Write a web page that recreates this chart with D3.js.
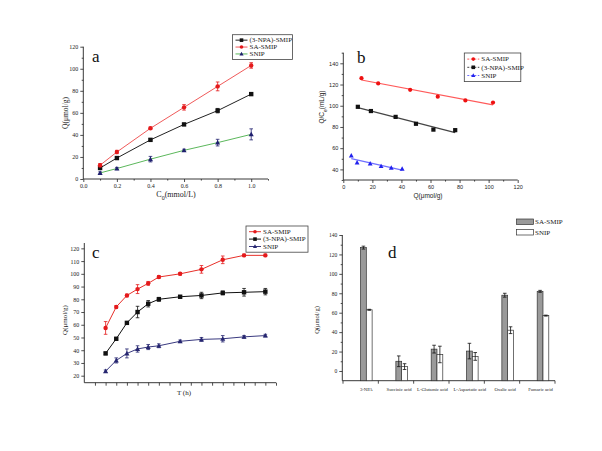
<!DOCTYPE html>
<html><head><meta charset="utf-8">
<script src="https://cdn.jsdelivr.net/npm/d3@7"></script>
<style>body{margin:0;background:#fff}svg{display:block}</style>
</head><body>
<script>
// ---------- DATA ----------
// Panel a
const concA = [0.1, 0.2, 0.4, 0.6, 0.8, 1.0];
const qNpaA = [10, 19, 35.5, 49.5, 62, 77];
const errNpaA = [1, 1, 1, 1, 2, 1];
const qSaA = [12.5, 24.5, 46, 65, 84, 103];
const errSaA = [1.5, 1.5, 1, 2.5, 4, 2.5];
const qSnipA = [5.5, 9.5, 18, 26, 33, 40.5];
const errSnipA = [1, 1, 2.5, 1, 3, 5];
const ticksAx = [0, 0.2, 0.4, 0.6, 0.8, 1.0];
const ticksAy = [0, 20, 40, 60, 80, 100, 120];
// Panel b
const qSaB = [12.5, 24, 46, 65, 84, 103];
const qcSaB = [126, 121, 115, 108.5, 105, 103];
const qNpaB = [10, 19, 36, 50, 62, 77];
const qcNpaB = [99, 95, 89.5, 83, 77.5, 77];
const qSnipB = [5.5, 9.5, 18.5, 26, 33, 40.5];
const qcSnipB = [53, 46.5, 45.5, 43, 41.5, 40.5];
const ticksBx = [0, 20, 40, 60, 80, 100, 120];
const ticksBy = [40, 60, 80, 100, 120, 140];
// Panel c
const timeC = [1, 1.5, 2, 2.5, 3, 3.5, 4.5, 5.5, 6.5, 7.5, 8.5];
const saC = [57.5, 74, 83, 88, 92.5, 97.5, 100, 103.5, 111, 114.5, 114.5];
const errSaC = [5, 1, 1, 3.5, 1.5, 1, 1, 3, 3, 1, 1];
const npaC = [37.5, 49, 61.5, 70, 76.5, 80, 82, 83, 85, 85.5, 86];
const errNpaC = [1, 1, 1, 4.5, 2.5, 1.5, 1, 2.5, 1.5, 3, 2.5];
const snipC = [23.5, 32, 37.5, 41, 42.5, 43.5, 47, 48.5, 49, 50.5, 51.5];
const errSnipC = [1, 2, 3.5, 2.5, 2, 1.5, 1, 1.5, 2.5, 1, 1];
const ticksCy = [20, 30, 40, 50, 60, 70, 80, 90, 100, 110, 120];
// Panel d
const catsD = ["3-NPA", "Succinic acid", "L-Glutamic acid", "L-Aspartatic acid", "Oxalic acid", "Fumaric acid"];
const saD = [127, 10, 22.5, 20.5, 78, 82];
const errSaD = [1.5, 5.5, 4, 8, 2, 1];
const snipD = [63, 4.5, 17, 15, 42, 57];
const errSnipD = [0.5, 3, 8.5, 4, 3.5, 0.5];
const ticksDy = [0, 20, 40, 60, 80, 100, 120, 140];

// ---------- DRAW ----------
const W = 602, H = 451;
const svg = d3.select("body").append("svg").attr("width", W).attr("height", H);
const SERIF = "'Liberation Serif','Times New Roman',serif";
const SANS = "'Liberation Sans',Arial,sans-serif";

function axisY(g, y, x0, ticks, minor, font, fs) {
  const a = g.append("g").attr("transform", `translate(${x0},0)`)
    .call(d3.axisLeft(y).tickValues(ticks).tickSize(3).tickPadding(2).tickSizeOuter(0));
  a.select(".domain").remove();
  a.selectAll("text").style("font-family", font).style("font-size", fs + "px").attr("fill", "#222");
  a.selectAll("line").attr("stroke", "#222").attr("stroke-width", 0.8);
  if (minor) {
    const m = g.append("g").attr("transform", `translate(${x0},0)`)
      .call(d3.axisLeft(y).tickValues(minor).tickSize(1.6).tickFormat(""));
    m.select(".domain").remove();
    m.selectAll("line").attr("stroke", "#222").attr("stroke-width", 0.8);
  }
  g.append("line").attr("x1", x0).attr("x2", x0).attr("y1", y.range()[0]).attr("y2", y.range()[1])
    .attr("stroke", "#222").attr("stroke-width", 0.9);
}
function axisX(g, x, y0, ticks, minor, font, fs, fmt) {
  const a = g.append("g").attr("transform", `translate(0,${y0})`)
    .call(d3.axisBottom(x).tickValues(ticks).tickSize(3).tickPadding(2).tickFormat(fmt || null));
  a.select(".domain").remove();
  a.selectAll("text").style("font-family", font).style("font-size", fs + "px").attr("fill", "#222");
  a.selectAll("line").attr("stroke", "#222").attr("stroke-width", 0.8);
  if (minor) {
    const m = g.append("g").attr("transform", `translate(0,${y0})`)
      .call(d3.axisBottom(x).tickValues(minor).tickSize(1.6).tickFormat(""));
    m.select(".domain").remove();
    m.selectAll("line").attr("stroke", "#222").attr("stroke-width", 0.8);
  }
  g.append("line").attr("x1", x.range()[0]).attr("x2", x.range()[1]).attr("y1", y0).attr("y2", y0)
    .attr("stroke", "#222").attr("stroke-width", 0.9);
}
function marker(g, type, cx, cy, color, s) {
  s = s || 2.2;
  if (type === "circle") g.append("circle").attr("cx", cx).attr("cy", cy).attr("r", s).attr("fill", color);
  else if (type === "square") g.append("rect").attr("x", cx - s).attr("y", cy - s).attr("width", 2 * s).attr("height", 2 * s).attr("fill", color);
  else g.append("path").attr("d", `M${cx},${cy - s * 1.2}L${cx + s * 1.15},${cy + s * 0.9}L${cx - s * 1.15},${cy + s * 0.9}Z`).attr("fill", color);
}
function series(g, x, y, xs, ys, errs, lineColor, mColor, type) {
  const pts = xs.map((v, i) => [x(v), y(ys[i])]);
  g.append("path").attr("d", d3.line()(pts)).attr("fill", "none").attr("stroke", lineColor).attr("stroke-width", 1);
  if (errs) xs.forEach((v, i) => {
    const cx = x(v), t = y(ys[i] + errs[i]), b = y(ys[i] - errs[i]);
    g.append("path").attr("d", `M${cx},${t}V${b}M${cx - 1.8},${t}H${cx + 1.8}M${cx - 1.8},${b}H${cx + 1.8}`)
      .attr("stroke", mColor).attr("stroke-width", 0.8).attr("fill", "none");
  });
  pts.forEach(p => marker(g, type, p[0], p[1], mColor));
}
function legend(g, x0, y0, w, rows, dy, dashed) {
  g.append("rect").attr("x", x0).attr("y", y0).attr("width", w).attr("height", dy * rows.length + 4)
    .attr("fill", "#fff").attr("stroke", "#444").attr("stroke-width", 0.8);
  rows.forEach((r, i) => {
    const cy = y0 + 2 + dy * (i + 0.5);
    g.append("line").attr("x1", x0 + 3).attr("x2", x0 + 15).attr("y1", cy).attr("y2", cy)
      .attr("stroke", r.line).attr("stroke-width", 1).attr("stroke-dasharray", dashed ? "2,1.5" : null);
    marker(g, r.type, x0 + 9, cy, r.color, 1.8);
    g.append("text").attr("x", x0 + 17).attr("y", cy + 2.3).text(r.label)
      .style("font-family", SERIF).style("font-size", "7px").attr("fill", "#222");
  });
}
function label(g, x, y, parts, font, fs, rot) {
  const t = g.append("text").attr("text-anchor", "middle")
    .attr("transform", `translate(${x},${y})` + (rot ? " rotate(-90)" : ""))
    .style("font-family", font).style("font-size", fs + "px").attr("fill", "#222");
  parts.forEach(p => {
    const s = t.append("tspan").text(p.t);
    if (p.sub) s.attr("baseline-shift", "sub").style("font-size", (fs * 0.75) + "px");
  });
}
function panelLetter(g, x, y, t) {
  g.append("text").attr("x", x).attr("y", y).text(t).style("font-family", SERIF).style("font-size", "17px").attr("fill", "#111");
}
function linFit(xs, ys) {
  let sx = 0, sy = 0;
  for (let i = 0; i < xs.length; i++) { sx += xs[i]; sy += ys[i]; }
  const mx = sx / xs.length, my = sy / ys.length;
  let num = 0, den = 0;
  for (let i = 0; i < xs.length; i++) { num += (xs[i] - mx) * (ys[i] - my); den += (xs[i] - mx) * (xs[i] - mx); }
  const k = num / den;
  return v => my + k * (v - mx);
}

// ---------- Panel a ----------
{
  const g = svg.append("g");
  const x = d3.scaleLinear().domain([0, 1.1]).range([83.3, 268]);
  const y = d3.scaleLinear().domain([0, 120]).range([179, 46.7]);
  axisY(g, y, 83.3, ticksAy, d3.range(10, 120, 20), SERIF, 6);
  axisX(g, x, 179, ticksAx, [0.1, 0.3, 0.5, 0.7, 0.9, 1.1], SERIF, 6, d3.format(".1f"));
  series(g, x, y, concA, qSnipA, errSnipA, "#5cb85c", "#1f1f6e", "tri");
  series(g, x, y, concA, qNpaA, errNpaA, "#222", "#111", "square");
  series(g, x, y, concA, qSaA, errSaA, "#f05a5a", "#e41a1c", "circle");
  label(g, 68, 113, [{ t: "Q(μmol/g)" }], SERIF, 7.5, true);
  label(g, 176, 197, [{ t: "C" }, { t: "0", sub: true }, { t: "(mmol/L)" }], SERIF, 8);
  panelLetter(g, 92, 62, "a");
  legend(g, 232.5, 34.7, 60, [
    { label: "(3-NPA)-SMIP", line: "#222", color: "#111", type: "square" },
    { label: "SA-SMIP", line: "#f05a5a", color: "#e41a1c", type: "circle" },
    { label: "SNIP", line: "#5cb85c", color: "#1f1f6e", type: "tri" }], 6.9, false);
}

// ---------- Panel b ----------
{
  const gb = svg.append("g");
  const xB = d3.scaleLinear().domain([0, 120]).range([343.3, 517.7]);
  const yB = d3.scaleLinear().domain([30, 150]).range([180, 52.7]);
  axisY(gb, yB, 343.3, ticksBy, d3.range(30, 151, 20), SANS, 5.5);
  axisX(gb, xB, 180, ticksBx, d3.range(10, 120, 20), SANS, 5.5);
  const groups = [
    { xs: qSaB, ys: qcSaB, line: "#ff5a5a", col: "#ee1111", type: "circle" },
    { xs: qNpaB, ys: qcNpaB, line: "#444", col: "#111", type: "square" },
    { xs: qSnipB, ys: qcSnipB, line: "#6f6fff", col: "#2222ee", type: "tri" }];
  const fitLayer = gb.append("g");
  const ptLayer = gb.append("g");
  groups.forEach(s => {
    const f = linFit(s.xs, s.ys);
    const ends = [d3.min(s.xs), d3.max(s.xs)];
    fitLayer.append("path").attr("d", d3.line()(ends.map(v => [xB(v), yB(f(v))])))
      .attr("fill", "none").attr("stroke", s.line).attr("stroke-width", 1.2);
    s.xs.forEach((v, i) => marker(ptLayer, s.type, xB(v), yB(s.ys[i]), s.col, 2.1));
  });
  label(gb, 324, 107, [{ t: "Q/C" }, { t: "e", sub: true }, { t: "(mL/g)" }], SANS, 6.5, true);
  label(gb, 428, 198, [{ t: "Q(μmol/g)" }], SANS, 6.5);
  panelLetter(gb, 357, 63, "b");
  legend(gb, 464.3, 53, 56.5, [
    { label: "SA-SMIP", line: "#ff5a5a", color: "#ee1111", type: "circle" },
    { label: "(3-NPA)-SMIP", line: "#444", color: "#111", type: "square" },
    { label: "SNIP", line: "#6f6fff", color: "#2222ee", type: "tri" }], 8.2, true);
}

// ---------- Panel c ----------
{
  const g = svg.append("g");
  const x = d3.scaleLinear().domain([0, 9]).range([84.3, 276]);
  const y = d3.scaleLinear().domain([14.5, 124.2]).range([382.7, 243]);
  axisY(g, y, 84.3, ticksCy, null, SERIF, 6);
  axisX(g, x, 382.7, d3.range(0.5, 9.01, 0.5), null, SERIF, 6, () => "");
  series(g, x, y, timeC, snipC, errSnipC, "#3a3a80", "#262670", "tri");
  series(g, x, y, timeC, npaC, errNpaC, "#111", "#111", "square");
  series(g, x, y, timeC, saC, errSaC, "#e8302a", "#e41a1c", "circle");
  label(g, 67, 320, [{ t: "Q(μmol/g)" }], SERIF, 7, true);
  label(g, 184, 395, [{ t: "T (h)" }], SERIF, 7);
  panelLetter(g, 92, 258, "c");
  legend(g, 246, 226, 62, [
    { label: "SA-SMIP", line: "#e8302a", color: "#e41a1c", type: "circle" },
    { label: "(3-NPA)-SMIP", line: "#111", color: "#111", type: "square" },
    { label: "SNIP", line: "#3a3a80", color: "#262670", type: "tri" }], 7.4, false);
}

// ---------- Panel d ----------
{
  const g = svg.append("g");
  const xb = d3.scaleBand().domain(catsD).range([343, 555]);
  const y = d3.scaleLinear().domain([-10, 140]).range([380.7, 235]);
  axisY(g, y, 342.3, ticksDy, d3.range(10, 140, 20), SERIF, 5.5);
  g.append("line").attr("x1", 342.3).attr("x2", 555).attr("y1", y(-10)).attr("y2", y(-10)).attr("stroke", "#222").attr("stroke-width", 0.9);
  catsD.concat([null]).forEach(c => {
    const xx = c ? xb(c) : xb.range()[1];
    g.append("line").attr("x1", xx).attr("x2", xx).attr("y1", y(-10)).attr("y2", y(-10) + 3).attr("stroke", "#222").attr("stroke-width", 0.8);
  });
  const bw = 5.8;
  catsD.forEach((c, i) => {
    const cx = xb(c) + xb.bandwidth() * 0.66;
    const base = y(-10);
    [[saD, errSaD, "#9a9a9a", cx - bw], [snipD, errSnipD, "#fff", cx]].forEach(([vals, errs, fill, x0]) => {
      g.append("rect").attr("x", x0).attr("y", y(vals[i])).attr("width", bw).attr("height", base - y(vals[i]))
        .attr("fill", fill).attr("stroke", "#333").attr("stroke-width", 0.7);
      const ex = x0 + bw / 2, t = y(vals[i] + errs[i]), b = y(vals[i] - errs[i]);
      g.append("path").attr("d", `M${ex},${t}V${b}M${ex - 1.8},${t}H${ex + 1.8}M${ex - 1.8},${b}H${ex + 1.8}`)
        .attr("stroke", "#111").attr("stroke-width", 0.8);
    });
    g.append("text").attr("x", cx - (i === 0 ? 0 : i === 2 ? 4.5 : 2.5)).attr("y", 391).attr("text-anchor", "middle").text(c)
      .style("font-family", SERIF).style("font-size", "4.7px").attr("fill", "#222");
  });
  label(g, 318.5, 320, [{ t: "Q(μmol/g)" }], SERIF, 6.5, true);
  panelLetter(g, 388, 258, "d");
  [["SA-SMIP", "#9a9a9a", 219], ["SNIP", "#fff", 229.5]].forEach(([t, f, yy]) => {
    g.append("rect").attr("x", 516.5).attr("y", yy).attr("width", 17).attr("height", 5.5)
      .attr("fill", f).attr("stroke", "#333").attr("stroke-width", 0.7);
    g.append("text").attr("x", 535).attr("y", yy + 5).text(t)
      .style("font-family", SERIF).style("font-size", "7px").attr("fill", "#222");
  });
}
</script>
</body></html>
